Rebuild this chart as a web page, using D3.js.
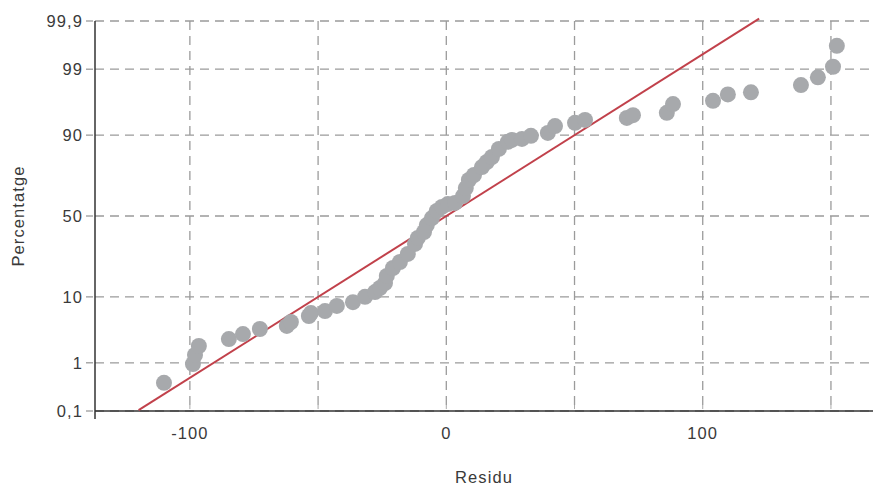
<!DOCTYPE html>
<html>
<head>
<meta charset="utf-8">
<script src="https://cdn.jsdelivr.net/npm/d3@7"></script>
<style>
    body { margin: 0; background: #fff; }
    text { font-family: "Liberation Sans", Arial, sans-serif; fill: #3a3a3a; font-size: 16.5px; letter-spacing: 1.1px; }
</style>
</head>
<body>
<svg></svg>
<script>
'use strict';

// residuals and their plotted percentages
var residuals = [-110.1, -98.8, -98.0, -96.5, -84.8, -79.3, -72.7, -62.2, -60.6, -53.6,
    -52.8, -47.3, -42.7, -36.4, -31.7, -27.8, -25.9, -23.9, -23.2, -20.8,
    -18.1, -15.0, -12.2, -11.1, -8.7, -7.6, -5.6, -3.7, -1.7, 0.6,
    3.4, 6.5, 7.6, 8.8, 10.8, 13.9, 15.8, 17.8, 20.5, 24.0,
    25.6, 29.5, 33.0, 39.6, 42.4, 50.2, 54.1, 70.4, 72.8, 86.0,
    88.4, 104.0, 109.8, 118.8, 138.3, 144.9, 150.8, 152.3];
var percents = [0.41, 0.95, 1.38, 1.97, 2.56, 3.07, 3.67, 4.07, 4.65, 5.65,
    6.2, 6.6, 7.7, 8.6, 10.0, 11.4, 12.7, 14.4, 17.1, 20.5,
    23.3, 27.4, 32.9, 36.4, 40.0, 44.3, 48.7, 53.2, 55.7, 57.5,
    58.2, 62.4, 67.1, 71.6, 74.2, 78.1, 80.4, 82.5, 85.6, 88.0,
    88.6, 88.9, 89.8, 90.6, 92.3, 93.0, 93.6, 94.0, 94.5, 94.9,
    96.2, 96.6, 97.3, 97.5, 98.1, 98.6, 99.1, 99.65];

// fitted normal line
var fitMean = 0;
var fitSd = 39;
var fitRange = [-120, 122];

var yTicks = [0.1, 1, 10, 50, 90, 99, 99.9];
var yTickLabels = ['0,1', '1', '10', '50', '90', '99', '99,9'];
var xGrid = [-100, -50, 0, 50, 100, 150];
var xLabels = [-100, 0, 100];

// inverse normal cdf (Acklam)
function probit(p) {
    var a = [-3.969683028665376e+01, 2.209460984245205e+02, -2.759285104469687e+02,
        1.383577518672690e+02, -3.066479806614716e+01, 2.506628277459239e+00];
    var b = [-5.447609879822406e+01, 1.615858368580409e+02, -1.556989798598866e+02,
        6.680131188771972e+01, -1.328068155288572e+01];
    var c = [-7.784894002430293e-03, -3.223964580411365e-01, -2.400758277161838e+00,
        -2.549732539343734e+00, 4.374664141464968e+00, 2.938163982698783e+00];
    var d = [7.784695709041462e-03, 3.224671290700398e-01, 2.445134137142996e+00,
        3.754408661907416e+00];
    var q, r;
    if (p < 0.02425) {
        q = Math.sqrt(-2 * Math.log(p));
        return (((((c[0] * q + c[1]) * q + c[2]) * q + c[3]) * q + c[4]) * q + c[5]) /
            ((((d[0] * q + d[1]) * q + d[2]) * q + d[3]) * q + 1);
    } else if (p > 1 - 0.02425) {
        q = Math.sqrt(-2 * Math.log(1 - p));
        return -(((((c[0] * q + c[1]) * q + c[2]) * q + c[3]) * q + c[4]) * q + c[5]) /
            ((((d[0] * q + d[1]) * q + d[2]) * q + d[3]) * q + 1);
    }
    q = p - 0.5;
    r = q * q;
    return (((((a[0] * r + a[1]) * r + a[2]) * r + a[3]) * r + a[4]) * r + a[5]) * q /
        (((((b[0] * r + b[1]) * r + b[2]) * r + b[3]) * r + b[4]) * r + 1);
}

var canvasWidth = 873;
var canvasHeight = 490;
var margin = { top: 21, right: 0, bottom: 79, left: 95 };
var width = canvasWidth - margin.left - margin.right;
var height = canvasHeight - margin.top - margin.bottom;

var svg = d3.select('svg')
    .attr('width', canvasWidth)
    .attr('height', canvasHeight);
var g = svg.append('g')
    .attr('transform', 'translate(' + margin.left + ',' + margin.top + ')');

var xScale = d3.scaleLinear()
    .domain([-137, 166.4])
    .range([0, width]);
// probability axis: linear in normal quantiles
var zScale = d3.scaleLinear()
    .domain([probit(0.001), probit(0.999)])
    .range([height, 0]);
function yPos(pct) {
    return zScale(probit(pct / 100));
}

var gridColor = '#9b9b9b';

// horizontal grid + little ticks
g.selectAll('.hgrid').data(yTicks).enter().append('line')
    .attr('class', 'hgrid')
    .attr('x1', 0).attr('x2', width)
    .attr('y1', yPos).attr('y2', yPos)
    .attr('stroke', gridColor).attr('stroke-width', 1.3)
    .attr('stroke-dasharray', '9,6');
g.selectAll('.ytick').data(yTicks).enter().append('line')
    .attr('class', 'ytick')
    .attr('x1', -9).attr('x2', -2)
    .attr('y1', yPos).attr('y2', yPos)
    .attr('stroke', gridColor).attr('stroke-width', 1.3);
g.selectAll('.ylabel').data(yTicks).enter().append('text')
    .attr('class', 'ylabel')
    .attr('x', -12)
    .attr('y', yPos)
    .attr('dy', '0.35em')
    .attr('text-anchor', 'end')
    .text(function (d, i) { return yTickLabels[i]; });

// vertical grid
g.selectAll('.vgrid').data(xGrid).enter().append('line')
    .attr('class', 'vgrid')
    .attr('x1', xScale).attr('x2', xScale)
    .attr('y1', 0).attr('y2', height)
    .attr('stroke', gridColor).attr('stroke-width', 1.3)
    .attr('stroke-dasharray', '9,6');
g.selectAll('.xtick').data(xGrid).enter().append('line')
    .attr('class', 'xtick')
    .attr('x1', xScale).attr('x2', xScale)
    .attr('y1', height - 6).attr('y2', height - 2)
    .attr('stroke', '#aaa').attr('stroke-width', 1);
g.selectAll('.xlabel').data(xLabels).enter().append('text')
    .attr('class', 'xlabel')
    .attr('x', xScale)
    .attr('y', height + 22)
    .attr('dy', '0.35em')
    .attr('text-anchor', 'middle')
    .text(function (d) { return d; });

// axis lines
g.append('line')
    .attr('x1', 0).attr('x2', width)
    .attr('y1', height).attr('y2', height)
    .attr('stroke', '#333').attr('stroke-width', 1.5);
g.append('line')
    .attr('x1', 0).attr('x2', 0)
    .attr('y1', 0).attr('y2', height + 8)
    .attr('stroke', '#333').attr('stroke-width', 1.5);

// fitted line
g.append('line')
    .attr('x1', xScale(fitRange[0]))
    .attr('y1', zScale((fitRange[0] - fitMean) / fitSd))
    .attr('x2', xScale(fitRange[1]))
    .attr('y2', zScale((fitRange[1] - fitMean) / fitSd))
    .attr('stroke', '#c1414b').attr('stroke-width', 2);

// points
g.selectAll('.pt').data(residuals).enter().append('circle')
    .attr('class', 'pt')
    .attr('cx', function (d) { return xScale(d); })
    .attr('cy', function (d, i) { return yPos(percents[i]); })
    .attr('r', 8)
    .attr('fill', '#a7a9ac');

// axis titles
g.append('text')
    .attr('x', width / 2)
    .attr('y', height + 66)
    .attr('dy', '0.35em')
    .attr('text-anchor', 'middle')
    .text('Residu');
g.append('text')
    .attr('transform', 'translate(' + (-77) + ',' + (height / 2) + ') rotate(-90)')
    .attr('dy', '0.35em')
    .attr('text-anchor', 'middle')
    .text('Percentatge');
</script>
</body>
</html>
